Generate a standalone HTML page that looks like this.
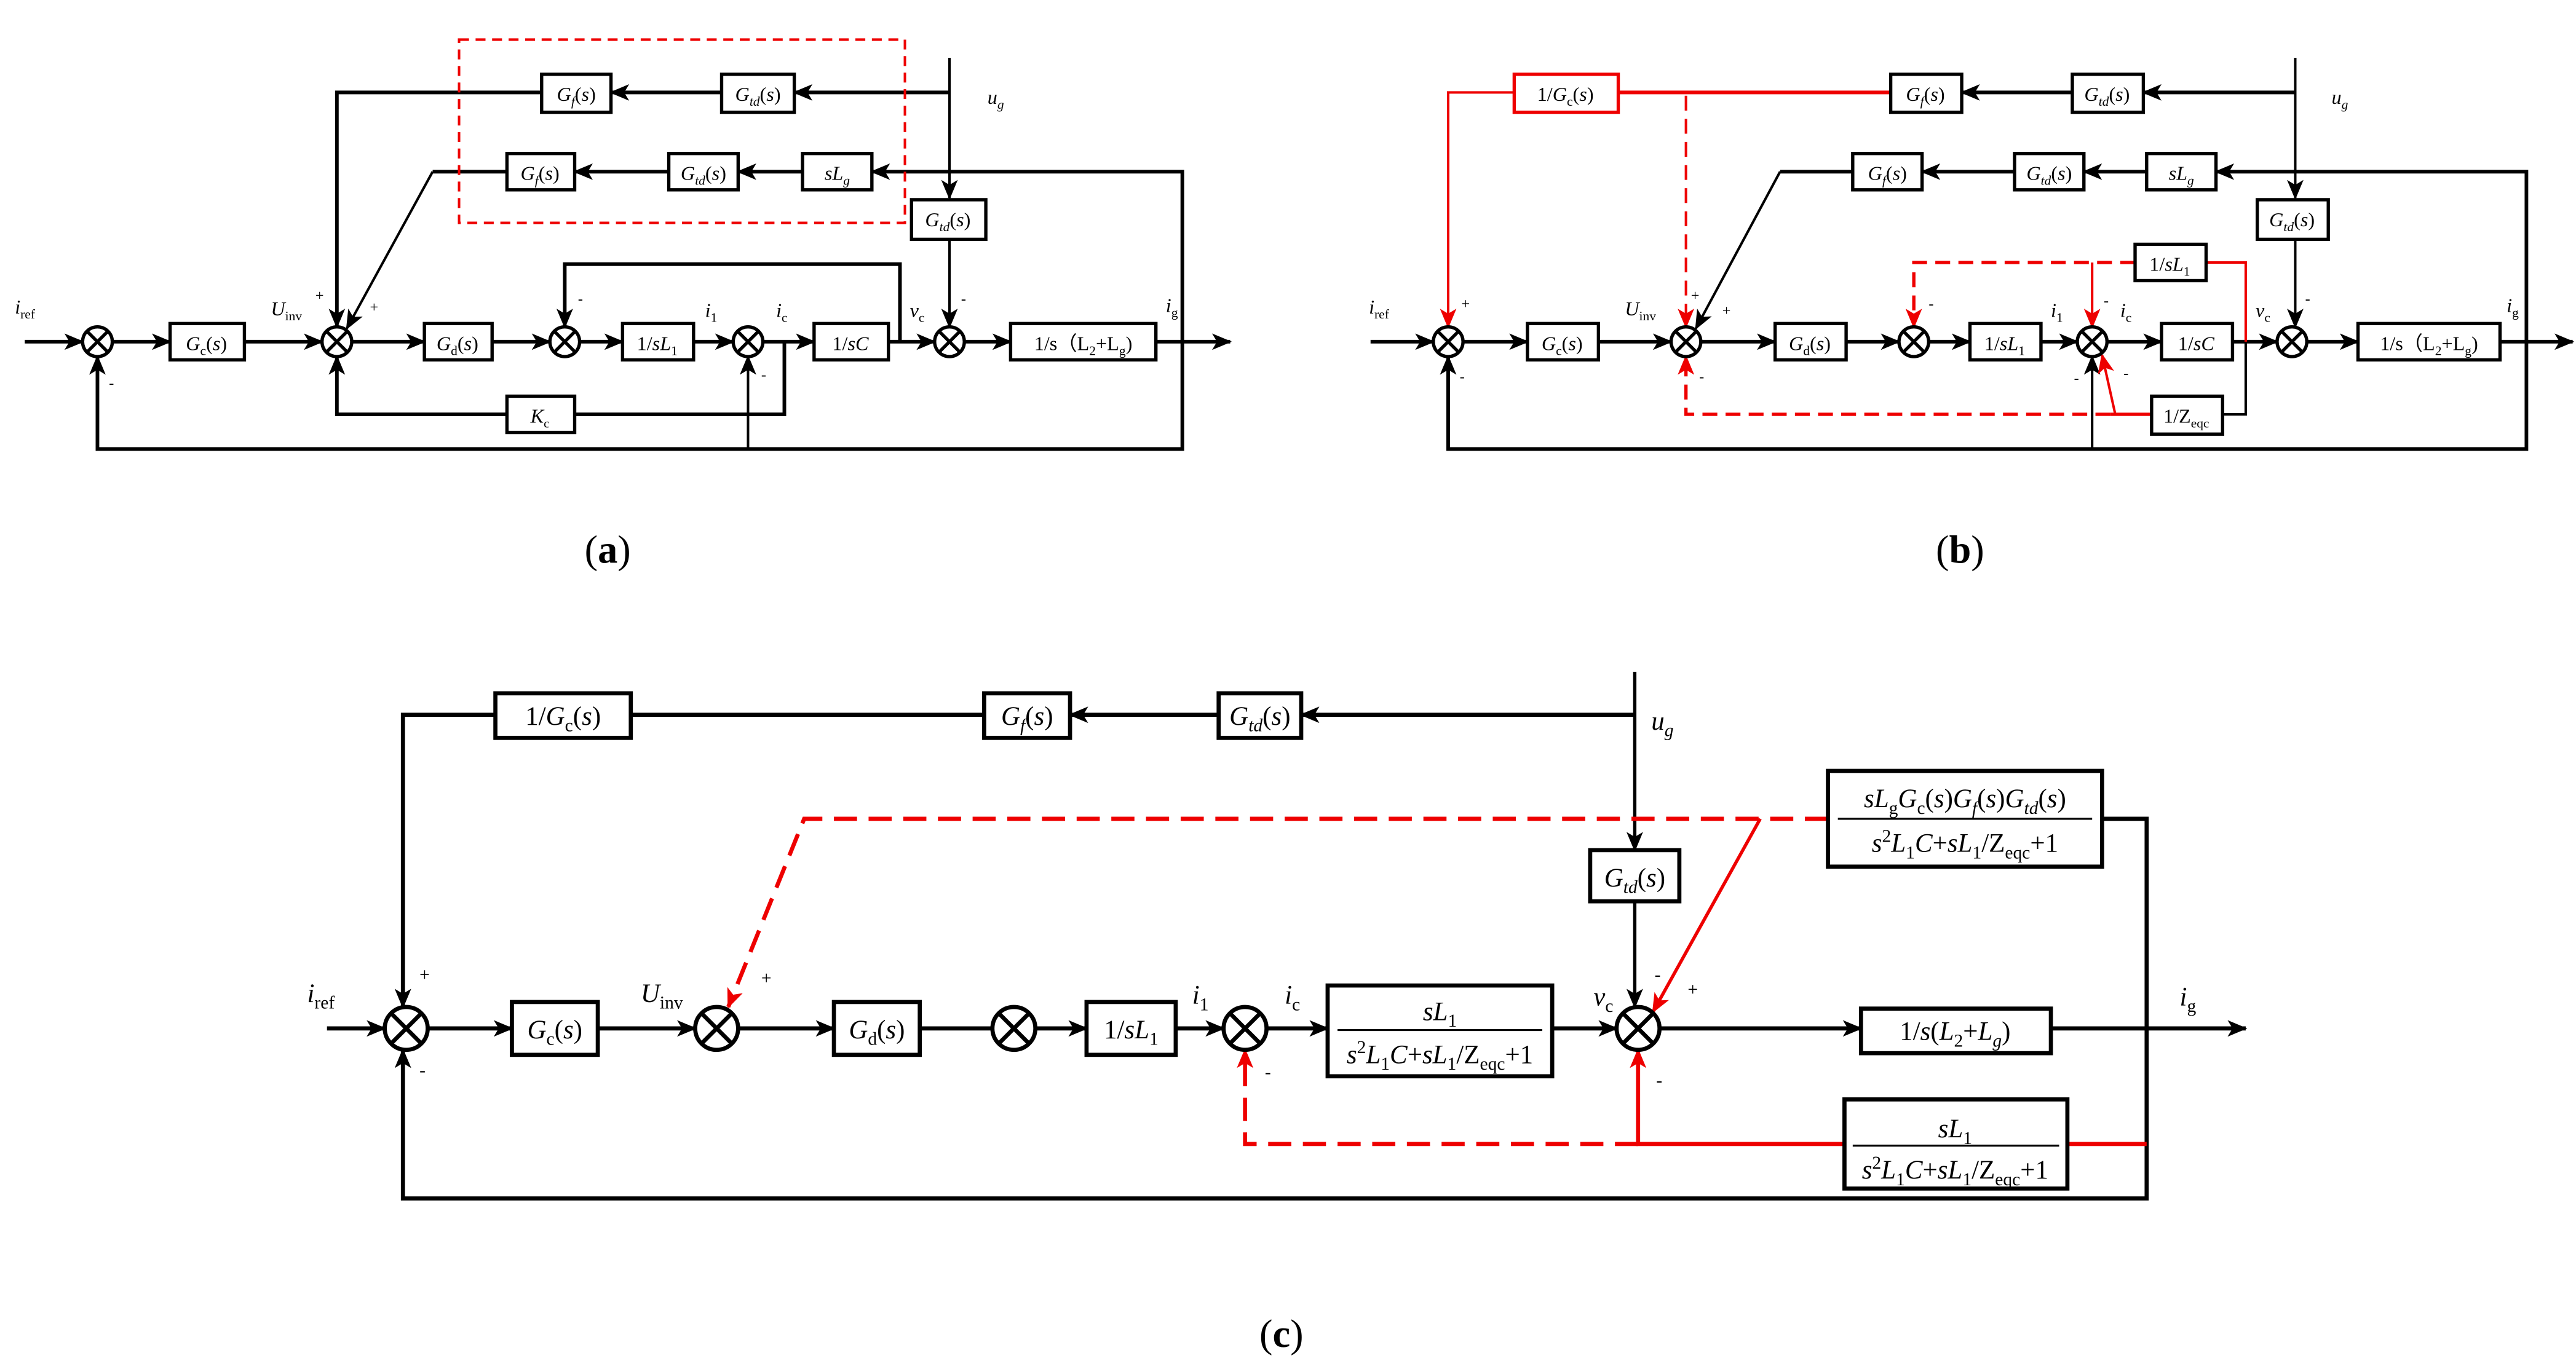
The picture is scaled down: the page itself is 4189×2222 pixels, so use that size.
<!DOCTYPE html>
<html><head><meta charset="utf-8"><style>
html,body{margin:0;padding:0;background:#fff;}
svg{display:block;}
text{font-family:"Liberation Serif",serif;fill:#000;}
</style></head><body>
<svg width="4189" height="2222" viewBox="0 0 1560 827.5" xmlns="http://www.w3.org/2000/svg">
<defs>
<marker id="ab" markerUnits="userSpaceOnUse" markerWidth="12" markerHeight="10" refX="11" refY="5" orient="auto"><path d="M0,0 L12,5 L0,10 L3,5 Z" fill="#000"/></marker>
<marker id="ar" markerUnits="userSpaceOnUse" markerWidth="12" markerHeight="10" refX="11" refY="5" orient="auto"><path d="M0,0 L12,5 L0,10 L3,5 Z" fill="#e00"/></marker>
</defs>
<rect width="1560" height="827.5" fill="#fff"/>

<!-- ================= (a) ================= -->
<g stroke="#000" stroke-width="2.2" fill="none">
<!-- main line -->
<line x1="15" y1="207" x2="50" y2="207" marker-end="url(#ab)"/>
<line x1="68" y1="207" x2="103" y2="207" marker-end="url(#ab)"/>
<line x1="148" y1="207" x2="195" y2="207" marker-end="url(#ab)"/>
<line x1="213" y1="207" x2="257" y2="207" marker-end="url(#ab)"/>
<line x1="298" y1="207" x2="333" y2="207" marker-end="url(#ab)"/>
<line x1="351" y1="207" x2="377" y2="207" marker-end="url(#ab)"/>
<line x1="420" y1="207" x2="444" y2="207" marker-end="url(#ab)"/>
<line x1="462" y1="207" x2="493" y2="207" marker-end="url(#ab)"/>
<line x1="538" y1="207" x2="566" y2="207" marker-end="url(#ab)"/>
<line x1="584" y1="207" x2="612" y2="207" marker-end="url(#ab)"/>
<line x1="700" y1="207" x2="745" y2="207" marker-end="url(#ab)"/>
<!-- inner feedback -->
<polyline points="545,207 545,160 342,160 342,198" marker-end="url(#ab)"/>
<!-- Kc loop -->
<polyline points="475,207 475,251 348,251"/>
<polyline points="307,251 204,251 204,216" marker-end="url(#ab)"/>
<!-- bottom feedback -->
<polyline points="716,207 716,104 528,104" marker-end="url(#ab)"/>
<polyline points="716,207 716,272 59,272 59,216" marker-end="url(#ab)"/>
<line x1="453" y1="272" x2="453" y2="216" stroke-width="1.5" marker-end="url(#ab)"/>
<!-- top row -->
<line x1="575" y1="56" x2="481" y2="56" marker-end="url(#ab)"/>
<line x1="437" y1="56" x2="370" y2="56" marker-end="url(#ab)"/>
<polyline points="328,56 204,56 204,198" marker-end="url(#ab)"/>
<!-- second row -->
<line x1="486" y1="104" x2="447" y2="104" marker-end="url(#ab)"/>
<line x1="405" y1="104" x2="348" y2="104" marker-end="url(#ab)"/>
<polyline points="307,104 262,104"/>
<line x1="262" y1="104" x2="210" y2="199" stroke-width="1.5" marker-end="url(#ab)"/>
<!-- ug -->
<line x1="575" y1="35" x2="575" y2="120" stroke-width="1.5" marker-end="url(#ab)"/>
<line x1="575" y1="145" x2="575" y2="198" stroke-width="1.5" marker-end="url(#ab)"/>
<!-- boxes -->
<g stroke-width="2" fill="#fff">
<rect x="103" y="196" width="45" height="22"/>
<rect x="257" y="196" width="41" height="22"/>
<rect x="377" y="196" width="43" height="22"/>
<rect x="493" y="196" width="45" height="22"/>
<rect x="612" y="196" width="88" height="22"/>
<rect x="307" y="240" width="41" height="22"/>
<rect x="552" y="121" width="45" height="24"/>
<rect x="328" y="45" width="42" height="23"/>
<rect x="437" y="45" width="44" height="23"/>
<rect x="307" y="93" width="41" height="22"/>
<rect x="405" y="93" width="42" height="22"/>
<rect x="486" y="93" width="42" height="22"/>
</g>
<!-- sums -->
<g stroke-width="2" fill="#fff">
<circle cx="59" cy="207" r="9"/><circle cx="204" cy="207" r="9"/><circle cx="342" cy="207" r="9"/><circle cx="453" cy="207" r="9"/><circle cx="575" cy="207" r="9"/>
</g>
<path d="M52.6,200.6 L65.4,213.4 M65.4,200.6 L52.6,213.4 M197.6,200.6 L210.4,213.4 M210.4,200.6 L197.6,213.4 M335.6,200.6 L348.4,213.4 M348.4,200.6 L335.6,213.4 M446.6,200.6 L459.4,213.4 M459.4,200.6 L446.6,213.4 M568.6,200.6 L581.4,213.4 M581.4,200.6 L568.6,213.4" stroke-width="2"/>
</g>
<rect x="278" y="24" width="270" height="111" fill="none" stroke="#e00" stroke-width="1.5" stroke-dasharray="6,4"/>
<g font-size="12" text-anchor="middle">
<text x="125" y="212"><tspan font-style="italic">G</tspan><tspan dy="3" font-size="8">c</tspan><tspan dy="-3">(</tspan><tspan font-style="italic">s</tspan>)</text>
<text x="277" y="212"><tspan font-style="italic">G</tspan><tspan dy="3" font-size="8">d</tspan><tspan dy="-3">(</tspan><tspan font-style="italic">s</tspan>)</text>
<text x="398" y="212">1/<tspan font-style="italic">sL</tspan><tspan dy="3" font-size="8">1</tspan></text>
<text x="515" y="212">1/<tspan font-style="italic">sC</tspan></text>
<text x="656" y="212">1/s（L<tspan dy="3" font-size="8">2</tspan><tspan dy="-3">+L</tspan><tspan dy="3" font-size="8">g</tspan><tspan dy="-3">)</tspan></text>
<text x="327" y="256"><tspan font-style="italic">K</tspan><tspan dy="3" font-size="8">c</tspan></text>
<text x="574" y="137"><tspan font-style="italic">G</tspan><tspan dy="3" font-size="8" font-style="italic">td</tspan><tspan dy="-3">(</tspan><tspan font-style="italic">s</tspan>)</text>
<text x="349" y="61"><tspan font-style="italic">G</tspan><tspan dy="3" font-size="8" font-style="italic">f</tspan><tspan dy="-3">(</tspan><tspan font-style="italic">s</tspan>)</text>
<text x="459" y="61"><tspan font-style="italic">G</tspan><tspan dy="3" font-size="8" font-style="italic">td</tspan><tspan dy="-3">(</tspan><tspan font-style="italic">s</tspan>)</text>
<text x="327" y="109"><tspan font-style="italic">G</tspan><tspan dy="3" font-size="8" font-style="italic">f</tspan><tspan dy="-3">(</tspan><tspan font-style="italic">s</tspan>)</text>
<text x="426" y="109"><tspan font-style="italic">G</tspan><tspan dy="3" font-size="8" font-style="italic">td</tspan><tspan dy="-3">(</tspan><tspan font-style="italic">s</tspan>)</text>
<text x="507" y="109"><tspan font-style="italic">sL</tspan><tspan dy="3" font-size="8" font-style="italic">g</tspan></text>
</g>
<g font-size="12">
<text x="9" y="190"><tspan font-style="italic">i</tspan><tspan dy="3" font-size="8">ref</tspan></text>
<text x="164" y="191"><tspan font-style="italic">U</tspan><tspan dy="3" font-size="8">inv</tspan></text>
<text x="427" y="192"><tspan font-style="italic">i</tspan><tspan dy="3" font-size="8">1</tspan></text>
<text x="470" y="192"><tspan font-style="italic">i</tspan><tspan dy="3" font-size="8">c</tspan></text>
<text x="551" y="192"><tspan font-style="italic">v</tspan><tspan dy="3" font-size="8">c</tspan></text>
<text x="706" y="189"><tspan font-style="italic">i</tspan><tspan dy="3" font-size="8">g</tspan></text>
<text x="598" y="63"><tspan font-style="italic">u</tspan><tspan dy="3" font-size="8" font-style="italic">g</tspan></text>
</g>
<g font-size="9">
<text x="191" y="182">+</text><text x="224" y="189">+</text><text x="350" y="184">-</text><text x="66" y="235">-</text><text x="461" y="230">-</text><text x="582" y="184">-</text>
</g>
<text x="368" y="341" font-size="24" text-anchor="middle">(<tspan font-weight="bold">a</tspan>)</text>

<!-- ================= (b) ================= -->
<g stroke="#000" stroke-width="2.2" fill="none">
<line x1="830" y1="207" x2="868" y2="207" marker-end="url(#ab)"/>
<line x1="886" y1="207" x2="925" y2="207" marker-end="url(#ab)"/>
<line x1="968" y1="207" x2="1012" y2="207" marker-end="url(#ab)"/>
<line x1="1030" y1="207" x2="1075" y2="207" marker-end="url(#ab)"/>
<line x1="1118" y1="207" x2="1150" y2="207" marker-end="url(#ab)"/>
<line x1="1168" y1="207" x2="1193" y2="207" marker-end="url(#ab)"/>
<line x1="1236" y1="207" x2="1258" y2="207" marker-end="url(#ab)"/>
<line x1="1276" y1="207" x2="1309" y2="207" marker-end="url(#ab)"/>
<line x1="1352" y1="207" x2="1379" y2="207" marker-end="url(#ab)"/>
<line x1="1397" y1="207" x2="1428" y2="207" marker-end="url(#ab)"/>
<line x1="1514" y1="207" x2="1558" y2="207" marker-end="url(#ab)"/>
<polyline points="1360,207 1360,251 1346,251" stroke-width="1.5"/>
<polyline points="1530,207 1530,104 1342,104" marker-end="url(#ab)"/>
<polyline points="1530,207 1530,272 877,272 877,216" marker-end="url(#ab)"/>
<line x1="1267" y1="272" x2="1267" y2="216" stroke-width="1.5" marker-end="url(#ab)"/>
<line x1="1390" y1="56" x2="1298" y2="56" marker-end="url(#ab)"/>
<line x1="1255" y1="56" x2="1188" y2="56" marker-end="url(#ab)"/>
<line x1="1300" y1="104" x2="1262" y2="104" marker-end="url(#ab)"/>
<line x1="1220" y1="104" x2="1164" y2="104" marker-end="url(#ab)"/>
<polyline points="1122,104 1078,104"/>
<line x1="1078" y1="104" x2="1027" y2="199" stroke-width="1.5" marker-end="url(#ab)"/>
<line x1="1390" y1="35" x2="1390" y2="120" stroke-width="1.5" marker-end="url(#ab)"/>
<line x1="1390" y1="145" x2="1390" y2="198" stroke-width="1.5" marker-end="url(#ab)"/>
</g>
<g stroke="#e00" fill="none" stroke-width="2">
<line x1="1145" y1="56" x2="980" y2="56" stroke-width="2.2"/>
<polyline points="917,56 877,56 877,198" stroke-width="1.5" marker-end="url(#ar)"/>
<line x1="1021" y1="58" x2="1021" y2="198" stroke-width="1.5" stroke-dasharray="9,5" marker-end="url(#ar)"/>
<polyline points="1293,159 1159,159 1159,198" stroke-dasharray="9,5" marker-end="url(#ar)"/>
<line x1="1267" y1="159" x2="1267" y2="198" stroke-width="1.5" marker-end="url(#ar)"/>
<polyline points="1336,159 1360,159 1360,207" stroke-width="1.5"/>
<line x1="1303" y1="251" x2="1278" y2="251"/>
<line x1="1281" y1="251" x2="1273" y2="215" stroke-width="1.5" marker-end="url(#ar)"/>
<polyline points="1278,251 1021,251 1021,216" stroke-dasharray="9,5" marker-end="url(#ar)"/>
</g>
<g stroke="#000" stroke-width="2" fill="#fff">
<rect x="925" y="196" width="43" height="22"/>
<rect x="1075" y="196" width="43" height="22"/>
<rect x="1193" y="196" width="43" height="22"/>
<rect x="1309" y="196" width="43" height="22"/>
<rect x="1428" y="196" width="86" height="22"/>
<rect x="1303" y="240" width="43" height="23"/>
<rect x="1367" y="121" width="43" height="24"/>
<rect x="1293" y="148" width="43" height="22"/>
<rect x="1145" y="45" width="43" height="23"/>
<rect x="1255" y="45" width="43" height="23"/>
<rect x="1122" y="93" width="42" height="22"/>
<rect x="1220" y="93" width="42" height="22"/>
<rect x="1300" y="93" width="42" height="22"/>
<rect x="917" y="45" width="63" height="23" stroke="#e00"/>
<circle cx="877" cy="207" r="9"/><circle cx="1021" cy="207" r="9"/><circle cx="1159" cy="207" r="9"/><circle cx="1267" cy="207" r="9"/><circle cx="1388" cy="207" r="9"/>
</g>
<path stroke="#000" stroke-width="2" d="M870.6,200.6 L883.4,213.4 M883.4,200.6 L870.6,213.4 M1014.6,200.6 L1027.4,213.4 M1027.4,200.6 L1014.6,213.4 M1152.6,200.6 L1165.4,213.4 M1165.4,200.6 L1152.6,213.4 M1260.6,200.6 L1273.4,213.4 M1273.4,200.6 L1260.6,213.4 M1381.6,200.6 L1394.4,213.4 M1394.4,200.6 L1381.6,213.4"/>
<g font-size="12" text-anchor="middle">
<text x="946" y="212"><tspan font-style="italic">G</tspan><tspan dy="3" font-size="8">c</tspan><tspan dy="-3">(</tspan><tspan font-style="italic">s</tspan>)</text>
<text x="1096" y="212"><tspan font-style="italic">G</tspan><tspan dy="3" font-size="8">d</tspan><tspan dy="-3">(</tspan><tspan font-style="italic">s</tspan>)</text>
<text x="1214" y="212">1/<tspan font-style="italic">sL</tspan><tspan dy="3" font-size="8">1</tspan></text>
<text x="1330" y="212">1/<tspan font-style="italic">sC</tspan></text>
<text x="1471" y="212">1/s（L<tspan dy="3" font-size="8">2</tspan><tspan dy="-3">+L</tspan><tspan dy="3" font-size="8">g</tspan><tspan dy="-3">)</tspan></text>
<text x="1324" y="256">1/Z<tspan dy="3" font-size="8">eqc</tspan></text>
<text x="1314" y="164">1/<tspan font-style="italic">sL</tspan><tspan dy="3" font-size="8">1</tspan></text>
<text x="1388" y="137"><tspan font-style="italic">G</tspan><tspan dy="3" font-size="8" font-style="italic">td</tspan><tspan dy="-3">(</tspan><tspan font-style="italic">s</tspan>)</text>
<text x="948" y="61">1/<tspan font-style="italic">G</tspan><tspan dy="3" font-size="8">c</tspan><tspan dy="-3">(</tspan><tspan font-style="italic">s</tspan>)</text>
<text x="1166" y="61"><tspan font-style="italic">G</tspan><tspan dy="3" font-size="8" font-style="italic">f</tspan><tspan dy="-3">(</tspan><tspan font-style="italic">s</tspan>)</text>
<text x="1276" y="61"><tspan font-style="italic">G</tspan><tspan dy="3" font-size="8" font-style="italic">td</tspan><tspan dy="-3">(</tspan><tspan font-style="italic">s</tspan>)</text>
<text x="1143" y="109"><tspan font-style="italic">G</tspan><tspan dy="3" font-size="8" font-style="italic">f</tspan><tspan dy="-3">(</tspan><tspan font-style="italic">s</tspan>)</text>
<text x="1241" y="109"><tspan font-style="italic">G</tspan><tspan dy="3" font-size="8" font-style="italic">td</tspan><tspan dy="-3">(</tspan><tspan font-style="italic">s</tspan>)</text>
<text x="1321" y="109"><tspan font-style="italic">sL</tspan><tspan dy="3" font-size="8" font-style="italic">g</tspan></text>
</g>
<g font-size="12">
<text x="829" y="190"><tspan font-style="italic">i</tspan><tspan dy="3" font-size="8">ref</tspan></text>
<text x="984" y="191"><tspan font-style="italic">U</tspan><tspan dy="3" font-size="8">inv</tspan></text>
<text x="1242" y="192"><tspan font-style="italic">i</tspan><tspan dy="3" font-size="8">1</tspan></text>
<text x="1284" y="192"><tspan font-style="italic">i</tspan><tspan dy="3" font-size="8">c</tspan></text>
<text x="1366" y="192"><tspan font-style="italic">v</tspan><tspan dy="3" font-size="8">c</tspan></text>
<text x="1518" y="189"><tspan font-style="italic">i</tspan><tspan dy="3" font-size="8">g</tspan></text>
<text x="1412" y="63"><tspan font-style="italic">u</tspan><tspan dy="3" font-size="8" font-style="italic">g</tspan></text>
</g>
<g font-size="9">
<text x="885" y="187" fill="#e00">+</text><text x="1024" y="182" fill="#e00">+</text><text x="1043" y="191">+</text>
<text x="1168" y="187" fill="#e00">-</text><text x="1274" y="185" fill="#e00">-</text><text x="1396" y="184">-</text>
<text x="884" y="231">-</text><text x="1029" y="231" fill="#e00">-</text><text x="1256" y="232">-</text><text x="1286" y="229" fill="#e00">-</text>
</g>
<text x="1187" y="341" font-size="24" text-anchor="middle">(<tspan font-weight="bold">b</tspan>)</text>

<!-- ================= (c) ================= -->
<g stroke="#000" stroke-width="2.5" fill="none">
<line x1="198" y1="623" x2="233" y2="623" marker-end="url(#ab)"/>
<line x1="259" y1="623" x2="310" y2="623" marker-end="url(#ab)"/>
<line x1="362" y1="623" x2="421" y2="623" marker-end="url(#ab)"/>
<line x1="447" y1="623" x2="505" y2="623" marker-end="url(#ab)"/>
<line x1="557" y1="623" x2="601" y2="623"/>
<line x1="627" y1="623" x2="658" y2="623" marker-end="url(#ab)"/>
<line x1="712" y1="623" x2="741" y2="623" marker-end="url(#ab)"/>
<line x1="767" y1="623" x2="804" y2="623" marker-end="url(#ab)"/>
<line x1="940" y1="623" x2="979" y2="623" marker-end="url(#ab)"/>
<line x1="1005" y1="623" x2="1127" y2="623" marker-end="url(#ab)"/>
<line x1="1242" y1="623" x2="1360" y2="623" marker-end="url(#ab)"/>
<line x1="990" y1="407" x2="990" y2="515" stroke-width="2" marker-end="url(#ab)"/>
<line x1="990" y1="546" x2="990" y2="610" stroke-width="2" marker-end="url(#ab)"/>
<line x1="990" y1="433" x2="788" y2="433" marker-end="url(#ab)"/>
<line x1="738" y1="433" x2="648" y2="433" marker-end="url(#ab)"/>
<line x1="596" y1="433" x2="382" y2="433"/>
<polyline points="300,433 244,433 244,610" marker-end="url(#ab)"/>
<polyline points="1273,496 1300,496 1300,726 244,726 244,636" marker-end="url(#ab)"/>
</g>
<g stroke="#e00" fill="none" stroke-width="2.5">
<polyline points="1107,496 487,496 441,610" stroke-dasharray="14,7" marker-end="url(#ar)"/>
<line x1="1066" y1="496" x2="1001" y2="613" stroke-width="2" marker-end="url(#ar)"/>
<line x1="1300" y1="693" x2="1252" y2="693"/>
<polyline points="1117,693 992,693 992,636" marker-end="url(#ar)"/>
<polyline points="992,693 754,693 754,636" stroke-dasharray="14,7" marker-end="url(#ar)"/>
</g>
<g stroke="#000" stroke-width="2.5" fill="#fff">
<rect x="310" y="607" width="52" height="32"/>
<rect x="505" y="607" width="52" height="32"/>
<rect x="658" y="607" width="54" height="32"/>
<rect x="804" y="597" width="136" height="55"/>
<rect x="1127" y="611" width="115" height="27"/>
<rect x="963" y="515" width="54" height="31"/>
<rect x="738" y="420" width="50" height="27"/>
<rect x="596" y="420" width="52" height="27"/>
<rect x="300" y="420" width="82" height="27"/>
<rect x="1107" y="467" width="166" height="58"/>
<rect x="1117" y="666" width="135" height="54"/>
<circle cx="246" cy="623" r="13"/><circle cx="434" cy="623" r="13"/><circle cx="614" cy="623" r="13"/><circle cx="754" cy="623" r="13"/><circle cx="992" cy="623" r="13"/>
</g>
<path stroke="#000" stroke-width="2.5" d="M236.8,613.8 L255.2,632.2 M255.2,613.8 L236.8,632.2 M424.8,613.8 L443.2,632.2 M443.2,613.8 L424.8,632.2 M604.8,613.8 L623.2,632.2 M623.2,613.8 L604.8,632.2 M744.8,613.8 L763.2,632.2 M763.2,613.8 L744.8,632.2 M982.8,613.8 L1001.2,632.2 M1001.2,613.8 L982.8,632.2"/>
<g stroke="#000" stroke-width="1.2">
<line x1="810" y1="624" x2="934" y2="624"/>
<line x1="1113" y1="496" x2="1267" y2="496"/>
<line x1="1122" y1="694" x2="1247" y2="694"/>
</g>
<g font-size="16" text-anchor="middle">
<text x="336" y="629"><tspan font-style="italic">G</tspan><tspan dy="4" font-size="11">c</tspan><tspan dy="-4">(</tspan><tspan font-style="italic">s</tspan>)</text>
<text x="531" y="629"><tspan font-style="italic">G</tspan><tspan dy="4" font-size="11">d</tspan><tspan dy="-4">(</tspan><tspan font-style="italic">s</tspan>)</text>
<text x="685" y="629">1/<tspan font-style="italic">sL</tspan><tspan dy="4" font-size="11">1</tspan></text>
<text x="1184" y="630">1/<tspan font-style="italic">s</tspan>(<tspan font-style="italic">L</tspan><tspan dy="4" font-size="11">2</tspan><tspan dy="-4">+</tspan><tspan font-style="italic">L</tspan><tspan dy="4" font-size="11" font-style="italic">g</tspan><tspan dy="-4">)</tspan></text>
<text x="990" y="537"><tspan font-style="italic">G</tspan><tspan dy="4" font-size="11" font-style="italic">td</tspan><tspan dy="-4">(</tspan><tspan font-style="italic">s</tspan>)</text>
<text x="763" y="439"><tspan font-style="italic">G</tspan><tspan dy="4" font-size="11" font-style="italic">td</tspan><tspan dy="-4">(</tspan><tspan font-style="italic">s</tspan>)</text>
<text x="622" y="439"><tspan font-style="italic">G</tspan><tspan dy="4" font-size="11" font-style="italic">f</tspan><tspan dy="-4">(</tspan><tspan font-style="italic">s</tspan>)</text>
<text x="341" y="439">1/<tspan font-style="italic">G</tspan><tspan dy="4" font-size="11">c</tspan><tspan dy="-4">(</tspan><tspan font-style="italic">s</tspan>)</text>
<text x="872" y="618"><tspan font-style="italic">sL</tspan><tspan dy="4" font-size="11">1</tspan></text>
<text x="872" y="644"><tspan font-style="italic">s</tspan><tspan dy="-6" font-size="11">2</tspan><tspan dy="6" font-style="italic">L</tspan><tspan dy="4" font-size="11">1</tspan><tspan dy="-4" font-style="italic">C</tspan>+<tspan font-style="italic">sL</tspan><tspan dy="4" font-size="11">1</tspan><tspan dy="-4">/Z</tspan><tspan dy="4" font-size="11">eqc</tspan><tspan dy="-4">+1</tspan></text>
<text x="1184" y="689"><tspan font-style="italic">sL</tspan><tspan dy="4" font-size="11">1</tspan></text>
<text x="1184" y="714"><tspan font-style="italic">s</tspan><tspan dy="-6" font-size="11">2</tspan><tspan dy="6" font-style="italic">L</tspan><tspan dy="4" font-size="11">1</tspan><tspan dy="-4" font-style="italic">C</tspan>+<tspan font-style="italic">sL</tspan><tspan dy="4" font-size="11">1</tspan><tspan dy="-4">/Z</tspan><tspan dy="4" font-size="11">eqc</tspan><tspan dy="-4">+1</tspan></text>
<text x="1190" y="489"><tspan font-style="italic">sL</tspan><tspan dy="4" font-size="11">g</tspan><tspan dy="-4" font-style="italic">G</tspan><tspan dy="4" font-size="11">c</tspan><tspan dy="-4">(</tspan><tspan font-style="italic">s</tspan>)<tspan font-style="italic">G</tspan><tspan dy="4" font-size="11" font-style="italic">f</tspan><tspan dy="-4">(</tspan><tspan font-style="italic">s</tspan>)<tspan font-style="italic">G</tspan><tspan dy="4" font-size="11" font-style="italic">td</tspan><tspan dy="-4">(</tspan><tspan font-style="italic">s</tspan>)</text>
<text x="1190" y="516"><tspan font-style="italic">s</tspan><tspan dy="-6" font-size="11">2</tspan><tspan dy="6" font-style="italic">L</tspan><tspan dy="4" font-size="11">1</tspan><tspan dy="-4" font-style="italic">C</tspan>+<tspan font-style="italic">sL</tspan><tspan dy="4" font-size="11">1</tspan><tspan dy="-4">/Z</tspan><tspan dy="4" font-size="11">eqc</tspan><tspan dy="-4">+1</tspan></text>
</g>
<g font-size="16">
<text x="186" y="607"><tspan font-style="italic">i</tspan><tspan dy="4" font-size="11">ref</tspan></text>
<text x="388" y="607"><tspan font-style="italic">U</tspan><tspan dy="4" font-size="11">inv</tspan></text>
<text x="722" y="608"><tspan font-style="italic">i</tspan><tspan dy="4" font-size="11">1</tspan></text>
<text x="778" y="608"><tspan font-style="italic">i</tspan><tspan dy="4" font-size="11">c</tspan></text>
<text x="965" y="609"><tspan font-style="italic">v</tspan><tspan dy="4" font-size="11">c</tspan></text>
<text x="1320" y="609"><tspan font-style="italic">i</tspan><tspan dy="4" font-size="11">g</tspan></text>
<text x="1000" y="442"><tspan font-style="italic">u</tspan><tspan dy="4" font-size="11" font-style="italic">g</tspan></text>
</g>
<g font-size="11">
<text x="254" y="594">+</text><text x="254" y="652">-</text><text x="461" y="596" fill="#e00">+</text>
<text x="766" y="653" fill="#e00">-</text><text x="1002" y="594">-</text><text x="1022" y="603" fill="#e00">+</text><text x="1003" y="658">-</text>
</g>
<text x="776" y="816" font-size="24" text-anchor="middle">(<tspan font-weight="bold">c</tspan>)</text>
</svg>
</body></html>
